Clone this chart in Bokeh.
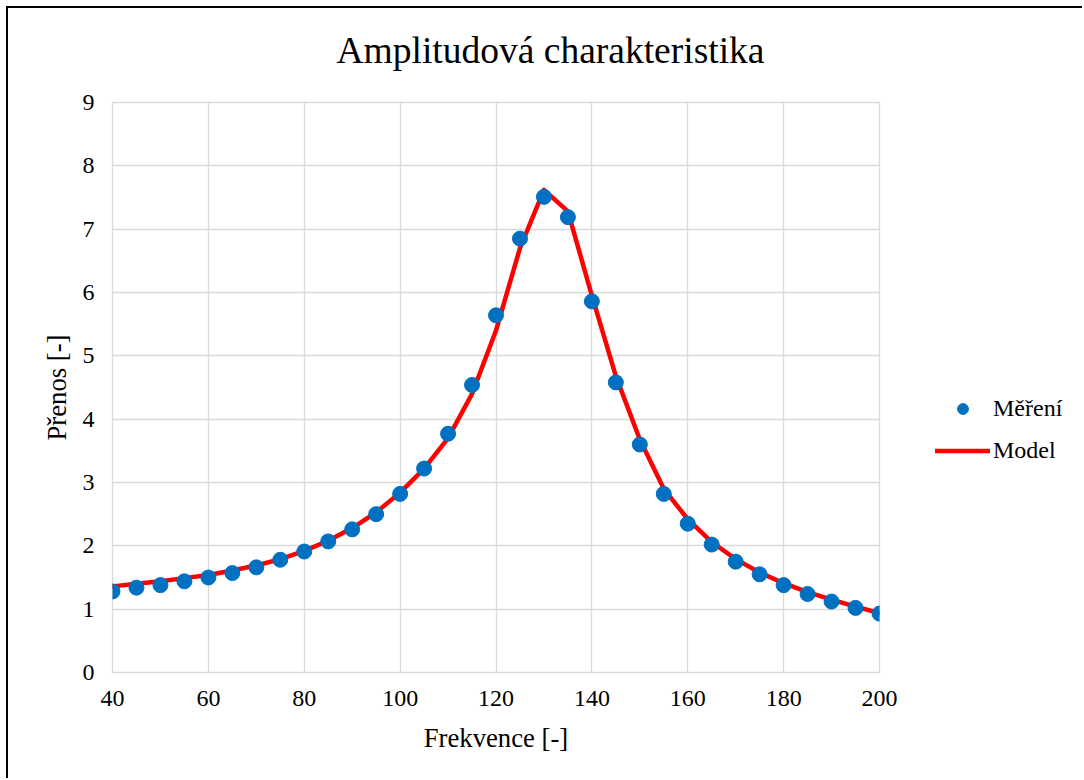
from bokeh.plotting import figure
from bokeh.models import Legend, LegendItem, Title, FixedTicker, Range1d, ColumnDataSource
from bokeh.layouts import row
from bokeh.embed import file_html
from bokeh.resources import INLINE

# Data
frekvence = [40, 45, 50, 55, 60, 65, 70, 75, 80, 85, 90, 95, 100, 105, 110, 115, 120,
             125, 130, 135, 140, 145, 150, 155, 160, 165, 170, 175, 180, 185, 190, 195, 200]
mereni = [1.28, 1.34, 1.38, 1.44, 1.50, 1.57, 1.66, 1.78, 1.91, 2.07, 2.26, 2.50, 2.82,
          3.22, 3.77, 4.54, 5.64, 6.85, 7.51, 7.19, 5.86, 4.58, 3.60, 2.82, 2.35, 2.02,
          1.75, 1.55, 1.38, 1.24, 1.12, 1.02, 0.93]
model = [1.36, 1.40, 1.44, 1.49, 1.54, 1.61, 1.69, 1.79, 1.92, 2.08, 2.28, 2.53, 2.84,
         3.22, 3.70, 4.40, 5.40, 6.70, 7.62, 7.28, 5.95, 4.68, 3.68, 2.90, 2.42, 2.06,
         1.79, 1.58, 1.41, 1.27, 1.15, 1.04, 0.94]
x_ticks = [40, 60, 80, 100, 120, 140, 160, 180, 200]
y_ticks = [0, 1, 2, 3, 4, 5, 6, 7, 8, 9]
series_names = ["Měření", "Model"]

FONT = "Liberation Serif"
BLUE = "#0070c0"
RED = "#ff0000"

src = ColumnDataSource(dict(x=frekvence, m=mereni, mod=model))

p = figure(frame_width=767, frame_height=570, output_backend="svg", toolbar_location=None,
           x_range=Range1d(x_ticks[0], x_ticks[-1]), y_range=Range1d(y_ticks[0], y_ticks[-1]),
           min_border_left=104, min_border_right=24, min_border_top=94, min_border_bottom=108)
p.outline_line_color = "#d9d9d9"
p.outline_line_width = 1.3
p.background_fill_color = "white"
p.border_fill_color = "white"

# chart title (outer) and an empty spacer title between it and the plot area
p.title.text = "Amplitudová charakteristika"
p.title.align = "left"
p.title.offset = 224
p.title.text_font = FONT
p.title.text_font_size = "37.5px"
p.title.text_font_style = "normal"
p.title.text_color = "black"
p.title.standoff = 10
spacer = Title(text=" ", text_font_size="1px", standoff=24)
p.add_layout(spacer, "above")

p.xaxis.ticker = FixedTicker(ticks=x_ticks)
p.yaxis.ticker = FixedTicker(ticks=y_ticks)
for ax in (p.xaxis, p.yaxis):
    ax.axis_line_color = None
    ax.major_tick_line_color = None
    ax.minor_tick_line_color = None
    ax.major_tick_out = 0
    ax.major_tick_in = 0
    ax.minor_tick_out = 0
    ax.minor_tick_in = 0
    ax.major_label_text_font = FONT
    ax.major_label_text_font_size = "24px"
    ax.major_label_text_color = "black"
    ax.axis_label_text_font = FONT
    ax.axis_label_text_font_size = "26.7px"
    ax.axis_label_text_font_style = "normal"
    ax.axis_label_text_color = "black"
p.xaxis.axis_label = "Frekvence [-]"
p.yaxis.axis_label = "Přenos [-]"
p.xaxis.major_label_standoff = 18
p.xaxis.axis_label_standoff = 14
p.yaxis.major_label_standoff = 18
p.yaxis.axis_label_standoff = 8

p.xgrid.grid_line_color = "#d9d9d9"
p.ygrid.grid_line_color = "#d9d9d9"
p.xgrid.grid_line_width = 1.3
p.ygrid.grid_line_width = 1.3

p.line("x", "mod", source=src, line_color=RED, line_width=4.5,
       line_join="round", line_cap="round")
p.scatter("x", "m", source=src, size=15, fill_color=BLUE, line_color=BLUE)

# legend panel to the right of the plot area (its glyph renderers fall outside its ranges)
p2 = figure(width=181, height=772, output_backend="svg", toolbar_location=None,
            x_axis_type=None, y_axis_type=None, x_range=Range1d(0, 1), y_range=Range1d(0, 1),
            min_border=0)
p2.outline_line_color = None
p2.background_fill_color = "white"
p2.border_fill_color = "white"
lg_pts = p2.scatter("x", "m", source=src, size=15, fill_color=BLUE, line_color=BLUE)
lg_line = p2.line("x", "mod", source=src, line_color=RED, line_width=4.5, line_cap="round")

legend = Legend(items=[LegendItem(label=series_names[0], renderers=[lg_pts]),
                       LegendItem(label=series_names[1], renderers=[lg_line])],
                location=(32, 208), orientation="vertical",
                border_line_color=None, background_fill_alpha=0,
                padding=0, margin=0, spacing=15,
                glyph_width=55, glyph_height=27, label_height=27, label_standoff=3,
                label_text_font=FONT, label_text_font_size="24px", label_text_color="black")
p2.add_layout(legend, "center")

layout = row(p, p2, spacing=0)
layout.styles = {"box-shadow": "-2px -2px 0 0 black", "margin-left": "8px", "margin-top": "8px"}

html = file_html(layout, INLINE)
open("out.html", "w").write(html)
